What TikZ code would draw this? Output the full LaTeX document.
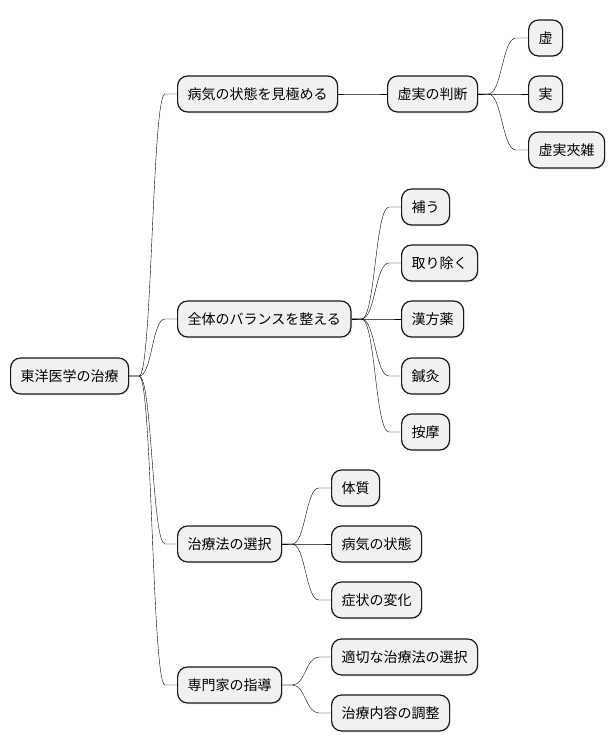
\documentclass[tikz,border=0pt]{standalone}
\usepackage{fontspec}
\newfontfamily\jpfont{Noto Sans CJK JP}
\usetikzlibrary{calc,shadows}
\definecolor{boxfill}{HTML}{F1F1F1}
\definecolor{boxline}{HTML}{181818}
\tikzset{
  mmbox/.style={draw=boxline, line width=1.2pt, fill=boxfill, rounded corners=10pt,
    minimum height=36pt, inner xsep=10pt, inner ysep=0pt, anchor=west,
    font=\jpfont\fontsize{14}{16}\selectfont, text=black,
    drop shadow={shadow xshift=1.5pt, shadow yshift=-1.5pt, opacity=0.12}},
  conn/.style={line width=0.8pt, draw=boxline, to path={let \p1=(\tikztostart), \p2=(\tikztotarget),
    \n1={(\x1+10pt+\x2-12pt)/2} in
    -- (\x1+10pt,\y1) .. controls (\n1,\y1) and (\n1,\y2) .. (\x2-12pt,\y2) -- (\x2,\y2)}}
}
\begin{document}
\begin{tikzpicture}[x=1pt,y=-1pt]
\useasboundingbox (0,0) rectangle (614,752);
\node[mmbox] (root) at (10,376) {東洋医学の治療};
\node[mmbox] (A) at (177,94) {病気の状態を見極める};
\node[mmbox] (A1) at (387,94) {虚実の判断};
\node[mmbox] (A1a) at (528,38) {虚};
\node[mmbox] (A1b) at (528,94) {実};
\node[mmbox] (A1c) at (528,150) {虚実夾雑};
\node[mmbox] (B) at (177,319) {全体のバランスを整える};
\node[mmbox] (B1) at (401,207) {補う};
\node[mmbox] (B2) at (401,263) {取り除く};
\node[mmbox] (B3) at (401,319) {漢方薬};
\node[mmbox] (B4) at (401,376) {鍼灸};
\node[mmbox] (B5) at (401,432) {按摩};
\node[mmbox] (C) at (177,544) {治療法の選択};
\node[mmbox] (C1) at (331,488) {体質};
\node[mmbox] (C2) at (331,544) {病気の状態};
\node[mmbox] (C3) at (331,600) {症状の変化};
\node[mmbox] (D) at (177,685) {専門家の指導};
\node[mmbox] (D1) at (331,657) {適切な治療法の選択};
\node[mmbox] (D2) at (331,713) {治療内容の調整};
\foreach \p/\c in {root/A,root/B,root/C,root/D,A/A1,A1/A1a,A1/A1b,A1/A1c,
  B/B1,B/B2,B/B3,B/B4,B/B5,C/C1,C/C2,C/C3,D/D1,D/D2}
  \draw (\p.east) to[conn] (\c.west);
\end{tikzpicture}
\end{document}
